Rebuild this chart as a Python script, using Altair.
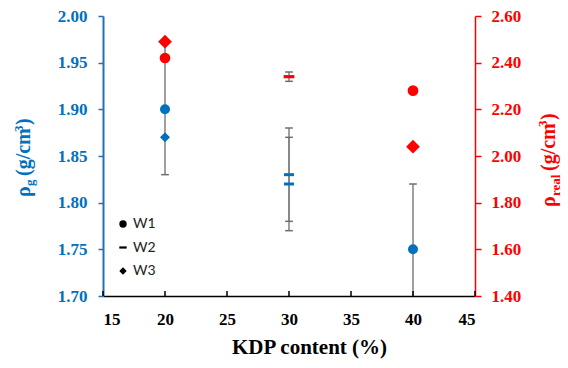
import altair as alt
import pandas as pd

# KDP content (%) and bulk density rho_g (left axis)
kdp_g = [20, 20, 30, 30, 40]
rho_g = [1.90, 1.87, 1.83, 1.82, 1.75]
err_g = [0.07, 0.0, 0.05, 0.05, 0.07]
series_g = ["W1", "W3", "W2", "W2", "W1"]

# KDP content (%) and real density rho_real (right axis)
kdp_r = [20, 20, 30, 40, 40]
rho_r = [2.49, 2.42, 2.34, 2.28, 2.04]
err_r = [0.0, 0.0, 0.02, 0.0, 0.0]
series_r = ["W3", "W1", "W2", "W1", "W3"]

series_names = ["W1", "W2", "W3"]
x_ticks = [15, 20, 25, 30, 35, 40, 45]
g_ticks = [1.70, 1.75, 1.80, 1.85, 1.90, 1.95, 2.00]
r_ticks = [1.40, 1.60, 1.80, 2.00, 2.20, 2.40, 2.60]

BLUE = "#0070C0"
BLUE_AXIS = "#2370B5"
RED = "#FF0000"
GRAY = "#808080"
SERIF = "Liberation Serif"
DASH = "M-1,-0.3L1,-0.3L1,0.3L-1,0.3Z"
CAP = "M-1,0L1,0"
W, H = 372, 280

df_g = pd.DataFrame({"kdp": kdp_g, "rho": rho_g, "err": err_g, "series": series_g})
df_r = pd.DataFrame({"kdp": kdp_r, "rho": rho_r, "err": err_r, "series": series_r})

x_enc = alt.X(
    "kdp:Q",
    scale=alt.Scale(domain=[15, 45]),
    axis=alt.Axis(
        values=x_ticks, format="d", ticks=False, tickSize=0, grid=False,
        domainColor="black", domainWidth=1.5,
        labelFont=SERIF, labelFontSize=17, labelFontWeight="bold", labelColor="black",
        labelPadding=15,
        title="KDP content (%)", titleFont=SERIF, titleFontSize=21, titleFontWeight="bold",
        titleColor="black", titleX=206, titleY=57, titleAlign="center",
        titleBaseline="alphabetic", titleAnchor="middle",
    ),
)

shape_scale = alt.Scale(domain=series_names, range=["circle", DASH, "diamond"])

axis_left = alt.Axis(
    values=g_ticks, format=".2f", grid=False, title=None,
    domainColor=BLUE_AXIS, domainWidth=2, tickColor=BLUE_AXIS, tickSize=5, tickWidth=1.5,
    labelFont=SERIF, labelFontSize=17, labelFontWeight="bold", labelColor=BLUE,
    labelPadding=11,
)
axis_right = alt.Axis(
    orient="right", values=r_ticks, format=".2f", grid=False, title=None,
    domainColor=RED, domainWidth=1.5, tickColor=RED, tickSize=6, tickWidth=1.5,
    labelFont=SERIF, labelFontSize=17, labelFontWeight="bold", labelColor=RED,
    labelPadding=10,
)


def y_left(field):
    return alt.Y(field, scale=alt.Scale(domain=[1.70, 2.00], nice=False), axis=axis_left)


def y_right(field):
    return alt.Y(field, scale=alt.Scale(domain=[1.40, 2.60], nice=False), axis=axis_right)


def error_layers(df, yfun):
    base = alt.Chart(df).transform_filter("datum.err > 0").transform_calculate(
        lo="datum.rho - datum.err", hi="datum.rho + datum.err"
    )
    rules = base.mark_rule(color=GRAY, strokeWidth=1.5, clip=True).encode(
        x=x_enc, y=yfun("lo:Q"), y2="hi:Q"
    )
    caps = base.transform_fold(["lo", "hi"], as_=["end", "val"]).mark_point(
        shape=CAP, size=60, filled=False, color="#6E6E6E", strokeWidth=1.5, opacity=1, clip=True
    ).encode(x=x_enc, y=yfun("val:Q"))
    return rules, caps


rules_g, caps_g = error_layers(df_g, y_left)
rules_r, caps_r = error_layers(df_r, y_right)

# inward ticks on the KDP axis
x_tick_marks = alt.Chart(pd.DataFrame({"kdp": x_ticks})).mark_rule(
    color="black", strokeWidth=1.5
).encode(x=x_enc, y=alt.value(H), y2=alt.value(H - 5))

points_g = alt.Chart(df_g).mark_point(filled=True, opacity=1, color=BLUE, size=100).encode(
    x=x_enc,
    y=y_left("rho:Q"),
    shape=alt.Shape("series:N", scale=shape_scale, legend=None),
)

points_r = alt.Chart(df_r).mark_point(filled=True, opacity=1, color=RED).encode(
    x=x_enc,
    y=y_right("rho:Q"),
    shape=alt.Shape("series:N", scale=shape_scale, legend=None),
    size=alt.condition(alt.datum.series == "W3", alt.value(190), alt.value(115)),
)

# series key inside the plot area
key_df = pd.DataFrame({"series": series_names})
key_y = alt.Y("series:N", scale=alt.Scale(domain=series_names, range=[208, 255], padding=0), axis=None)
key_symbols = alt.Chart(key_df).mark_point(filled=True, opacity=1, color="black", size=55).encode(
    x=alt.value(20), y=key_y,
    shape=alt.Shape("series:N", scale=shape_scale, legend=None),
)
key_labels = alt.Chart(key_df).mark_text(
    align="left", baseline="middle", font="Lato", fontSize=14, color="#222222"
).encode(x=alt.value(30), y=key_y, text="series:N")
key = alt.layer(key_symbols, key_labels)

left = alt.layer(rules_g, caps_g, x_tick_marks, points_g)
right = alt.layer(rules_r, caps_r, points_r)

# rotated axis titles with sub/superscripts: (text, font size, baseline shift, advance)
title_g = [("ρ", 20, 0, 11), ("g", 13, 4, 10), ("(g/cm", 20, 0, 44), ("3", 13, -7, 7), (")", 20, 0, 7)]
title_r = [("ρ", 20, 0, 11), ("real", 13, 5, 25), ("(g/cm", 20, 0, 44), ("3", 13, -8, 7), (")", 20, 0, 7)]


def rotated_title(pieces, x0, y0, color):
    charts = []
    y = y0
    for text, size, shift, adv in pieces:
        charts.append(
            alt.Chart(pd.DataFrame({"k": [0]})).mark_text(
                font=SERIF, fontSize=size, fontWeight="bold", color=color,
                angle=270, align="left", baseline="alphabetic",
            ).encode(x=alt.value(x0 + shift), y=alt.value(y), text=alt.value(text))
        )
        y -= adv
    return charts


titles = alt.layer(*rotated_title(title_g, -73, 181, BLUE), *rotated_title(title_r, W + 80, 191, RED))

chart = (
    alt.layer(left, right, key, titles)
    .resolve_scale(y="independent")
    .properties(
        width=W, height=H,
        autosize=alt.AutoSizeParams(type="none"),
        padding={"left": 103, "right": 93, "top": 16, "bottom": 72},
        background="white",
    )
    .configure_view(stroke=None)
)

chart.save("out.html", embed_options={"renderer": "svg", "actions": False})
